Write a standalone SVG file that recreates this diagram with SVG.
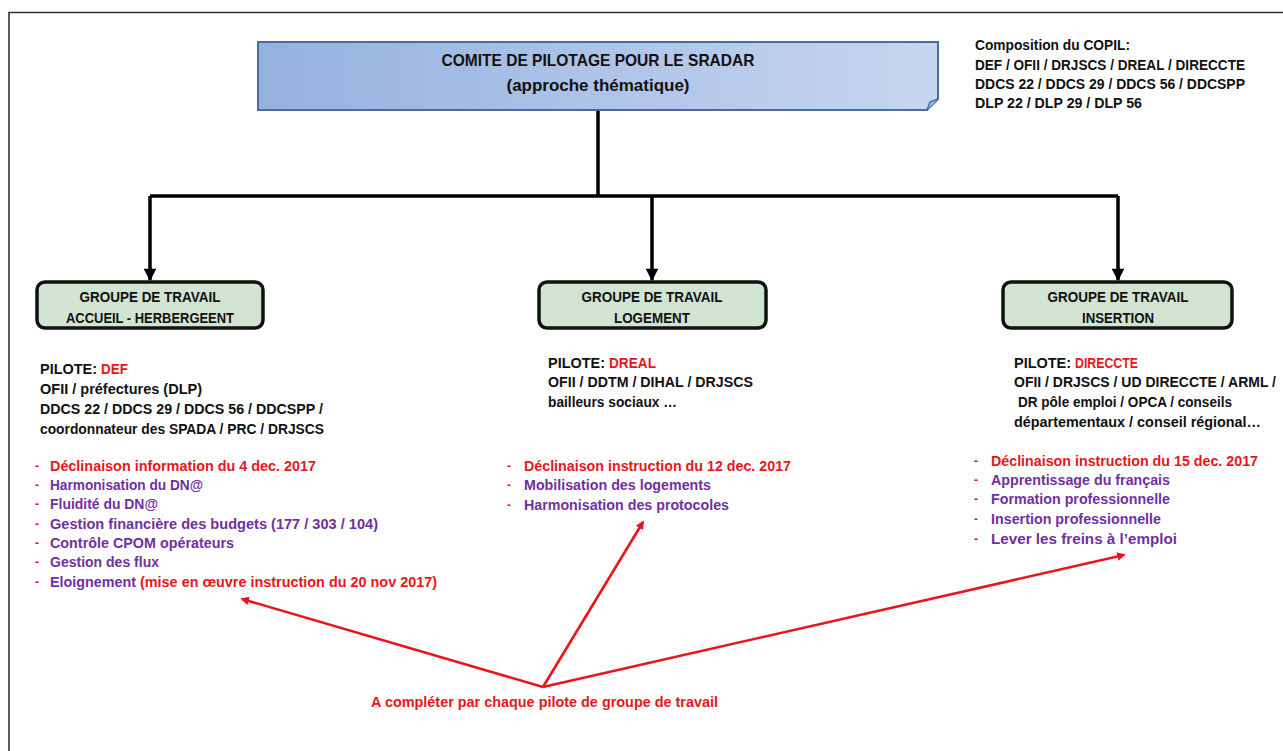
<svg xmlns="http://www.w3.org/2000/svg" width="1283" height="751" viewBox="0 0 1283 751">
<style>
text{font-family:"Liberation Sans",Arial,sans-serif;font-weight:bold;font-size:14.5px;fill:#111}
.c{text-anchor:middle}
.r{fill:#e8161b}
.p{fill:#7030a0}
.h{font-size:16.5px}
.g{font-size:14px}
.d{font-size:12px}
.conn{fill:none;stroke:#000;stroke-width:3.5}
.red{fill:none;stroke:#e8161b;stroke-width:2.6}
.box{fill:#d1e4d1;stroke:#111;stroke-width:3.5}
</style>
<defs>
<linearGradient id="gb" x1="0" y1="0" x2="1" y2="0">
<stop offset="0" stop-color="#95b1e0"/>
<stop offset="1" stop-color="#c6d6ef"/>
</linearGradient>
<marker id="ab" viewBox="0 0 10 10" refX="9" refY="5" markerWidth="3.8" markerHeight="3.6" orient="auto" markerUnits="strokeWidth">
<path d="M0,0 L10,5 L0,10 Z" fill="#000"/>
</marker>
<marker id="ar" viewBox="0 0 10 10" refX="8" refY="5" markerWidth="3.3" markerHeight="3.3" orient="auto" markerUnits="strokeWidth">
<path d="M0,0 L10,5 L0,10 Z" fill="#e8161b"/>
</marker>
</defs>

<g id="frame">
<path d="M9,751 V12.5 H1283" fill="none" stroke="#333" stroke-width="1.6"/>
</g>

<g id="connectors">
<path class="conn" d="M598,110 V196"/>
<path class="conn" d="M150,196 H1118"/>
<path class="conn" d="M150,196 V280" marker-end="url(#ab)"/>
<path class="conn" d="M652,196 V280" marker-end="url(#ab)"/>
<path class="conn" d="M1118,196 V280" marker-end="url(#ab)"/>
<path class="red" d="M543,687 L242,599" marker-end="url(#ar)"/>
<path class="red" d="M543,687 L643,522" marker-end="url(#ar)"/>
<path class="red" d="M543,687 L1124,555" marker-end="url(#ar)"/>
</g>

<g id="copil">
<path d="M258,42 H938 V99 L927,110 H258 Z" fill="url(#gb)" stroke="#4a6aa0" stroke-width="2"/>
<path d="M927,110 L930,102 L938,99" fill="#a9bfe3" stroke="#4a6aa0" stroke-width="1.5"/>
<text class="c h" x="598" y="66" textLength="313" lengthAdjust="spacingAndGlyphs">COMITE DE PILOTAGE POUR LE SRADAR</text>
<text class="c h" x="598" y="91" textLength="183" lengthAdjust="spacingAndGlyphs">(approche thématique)</text>
</g>

<g id="composition">
<text x="975" y="50" textLength="155" lengthAdjust="spacingAndGlyphs">Composition du COPIL:</text>
<text x="975" y="70" textLength="270" lengthAdjust="spacingAndGlyphs">DEF / OFII / DRJSCS / DREAL / DIRECCTE</text>
<text x="975" y="89" textLength="270" lengthAdjust="spacingAndGlyphs">DDCS 22 / DDCS 29 / DDCS 56 / DDCSPP</text>
<text x="975" y="108" textLength="167" lengthAdjust="spacingAndGlyphs">DLP 22 / DLP 29 / DLP 56</text>
</g>

<g id="gt-accueil">
<rect class="box" x="37" y="282" width="226" height="46" rx="8"/>
<text class="c g" x="150" y="302" textLength="141" lengthAdjust="spacingAndGlyphs">GROUPE DE TRAVAIL</text>
<text class="c g" x="150" y="323" textLength="168" lengthAdjust="spacingAndGlyphs">ACCUEIL - HERBERGEENT</text>
</g>

<g id="gt-logement">
<rect class="box" x="539" y="282" width="227" height="46" rx="8"/>
<text class="c g" x="652" y="302" textLength="141" lengthAdjust="spacingAndGlyphs">GROUPE DE TRAVAIL</text>
<text class="c g" x="652" y="323" textLength="76" lengthAdjust="spacingAndGlyphs">LOGEMENT</text>
</g>

<g id="gt-insertion">
<rect class="box" x="1003" y="282" width="229" height="46" rx="8"/>
<text class="c g" x="1118" y="302" textLength="141" lengthAdjust="spacingAndGlyphs">GROUPE DE TRAVAIL</text>
<text class="c g" x="1118" y="323" textLength="72" lengthAdjust="spacingAndGlyphs">INSERTION</text>
</g>

<g id="pilote-accueil">
<text x="40" y="374" textLength="57" lengthAdjust="spacingAndGlyphs">PILOTE:</text>
<text class="r" x="101" y="374" textLength="27" lengthAdjust="spacingAndGlyphs">DEF</text>
<text x="40" y="394" textLength="162" lengthAdjust="spacingAndGlyphs">OFII / préfectures (DLP)</text>
<text x="40" y="414" textLength="283" lengthAdjust="spacingAndGlyphs">DDCS 22 / DDCS 29 / DDCS 56 / DDCSPP /</text>
<text x="40" y="434" textLength="284" lengthAdjust="spacingAndGlyphs">coordonnateur des SPADA / PRC / DRJSCS</text>
</g>

<g id="liste-accueil">
<text class="r d" x="35" y="470">-</text>
<text class="r d" x="35" y="489">-</text>
<text class="r d" x="35" y="508">-</text>
<text class="r d" x="35" y="528">-</text>
<text class="r d" x="35" y="547">-</text>
<text class="r d" x="35" y="566">-</text>
<text class="r d" x="35" y="586">-</text>
<text class="r" x="50" y="471" textLength="266" lengthAdjust="spacingAndGlyphs">Déclinaison information du 4 dec. 2017</text>
<text class="p" x="50" y="490" textLength="153" lengthAdjust="spacingAndGlyphs">Harmonisation du DN@</text>
<text class="p" x="50" y="509" textLength="108" lengthAdjust="spacingAndGlyphs">Fluidité du DN@</text>
<text class="p" x="50" y="529" textLength="328" lengthAdjust="spacingAndGlyphs">Gestion financière des budgets (177 / 303 / 104)</text>
<text class="p" x="50" y="548" textLength="184" lengthAdjust="spacingAndGlyphs">Contrôle CPOM opérateurs</text>
<text class="p" x="50" y="567" textLength="109" lengthAdjust="spacingAndGlyphs">Gestion des flux</text>
<text class="p" x="50" y="587" textLength="86" lengthAdjust="spacingAndGlyphs">Eloignement</text>
<text class="r" x="140" y="587" textLength="297" lengthAdjust="spacingAndGlyphs">(mise en œuvre instruction du 20 nov 2017)</text>
</g>

<g id="pilote-logement">
<text x="548" y="368" textLength="57" lengthAdjust="spacingAndGlyphs">PILOTE:</text>
<text class="r" x="609" y="368" textLength="47" lengthAdjust="spacingAndGlyphs">DREAL</text>
<text x="548" y="387" textLength="205" lengthAdjust="spacingAndGlyphs">OFII / DDTM / DIHAL / DRJSCS</text>
<text x="548" y="407" textLength="129" lengthAdjust="spacingAndGlyphs">bailleurs sociaux …</text>
</g>

<g id="liste-logement">
<text class="r d" x="507" y="470">-</text>
<text class="r d" x="507" y="489">-</text>
<text class="r d" x="507" y="509">-</text>
<text class="r" x="524" y="471" textLength="267" lengthAdjust="spacingAndGlyphs">Déclinaison instruction du 12 dec. 2017</text>
<text class="p" x="524" y="490" textLength="187" lengthAdjust="spacingAndGlyphs">Mobilisation des logements</text>
<text class="p" x="524" y="510" textLength="205" lengthAdjust="spacingAndGlyphs">Harmonisation des protocoles</text>
</g>

<g id="pilote-insertion">
<text x="1014" y="368" textLength="57" lengthAdjust="spacingAndGlyphs">PILOTE:</text>
<text class="r" x="1075" y="368" textLength="63" lengthAdjust="spacingAndGlyphs">DIRECCTE</text>
<text x="1014" y="387" textLength="262" lengthAdjust="spacingAndGlyphs">OFII / DRJSCS / UD DIRECCTE / ARML /</text>
<text x="1018" y="407" textLength="214" lengthAdjust="spacingAndGlyphs">DR pôle emploi / OPCA / conseils</text>
<text x="1014" y="427" textLength="247" lengthAdjust="spacingAndGlyphs">départementaux / conseil régional…</text>
</g>

<g id="liste-insertion">
<text class="r d" x="974" y="465">-</text>
<text class="r d" x="974" y="484">-</text>
<text class="r d" x="974" y="503">-</text>
<text class="r d" x="974" y="523">-</text>
<text class="r d" x="974" y="543">-</text>
<text class="r" x="991" y="466" textLength="267" lengthAdjust="spacingAndGlyphs">Déclinaison instruction du 15 dec. 2017</text>
<text class="p" x="991" y="485" textLength="179" lengthAdjust="spacingAndGlyphs">Apprentissage du français</text>
<text class="p" x="991" y="504" textLength="179" lengthAdjust="spacingAndGlyphs">Formation professionnelle</text>
<text class="p" x="991" y="524" textLength="170" lengthAdjust="spacingAndGlyphs">Insertion professionnelle</text>
<text class="p" x="991" y="544" textLength="186" lengthAdjust="spacingAndGlyphs">Lever les freins à l’emploi</text>
</g>

<g id="note">
<text class="r" x="371" y="707" font-size="13.5" textLength="347" lengthAdjust="spacingAndGlyphs">A compléter par chaque pilote de groupe de travail</text>
</g>
</svg>
